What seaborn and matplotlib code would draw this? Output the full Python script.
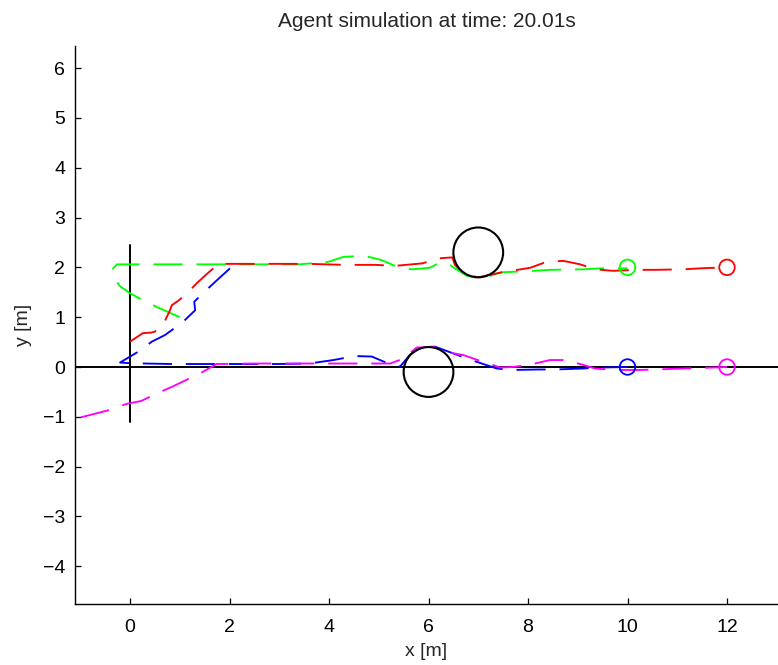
import matplotlib
matplotlib.use("Agg")
import matplotlib.pyplot as plt
from matplotlib.patches import Circle
import seaborn as sns
import pandas as pd

# Agent trajectories (x, y in metres)
green_x = [1.0, 0.57, 0.26, 0.0, -0.2, -0.3, -0.34, -0.26, 0.5, 1.5, 2.4, 3.05, 3.4, 3.98, 4.29,
           4.72, 5.04, 5.33, 5.66, 6.02, 6.2, 6.37, 6.53, 6.77, 7.0, 7.1, 7.47, 8.1, 8.44, 9.11, 9.45, 10.0]
green_y = [1.0, 1.19, 1.34, 1.48, 1.62, 1.75, 1.98, 2.06, 2.06, 2.06, 2.06, 2.06, 2.06, 2.11, 2.21,
           2.23, 2.15, 2.03, 1.96, 1.99, 2.08, 2.09, 1.98, 1.83, 1.79, 1.79, 1.90, 1.93, 1.95, 1.96, 1.98, 1.98]

red_x = [0.0, 0.26, 0.42, 0.5, 0.66, 0.8, 0.84, 0.97, 1.13, 1.34, 1.57, 1.78, 2.4, 3.0, 3.6, 4.29,
         4.92, 5.33, 5.88, 6.2, 6.48, 6.53, 6.6, 6.77, 7.0, 7.47, 8.04, 8.37, 8.71, 9.05, 9.35, 9.71,
         10.18, 10.55, 11.12, 11.46, 12.0]
red_y = [0.51, 0.68, 0.69, 0.71, 0.84, 1.13, 1.24, 1.33, 1.46, 1.68, 1.89, 2.07, 2.07, 2.07, 2.07, 2.05,
         2.05, 2.03, 2.08, 2.18, 2.2, 2.05, 1.98, 1.85, 1.8, 1.9, 1.99, 2.11, 2.13, 2.06, 1.96, 1.93,
         1.95, 1.95, 1.96, 1.98, 2.0]

blue_x = [2.01, 1.8, 1.54, 1.29, 1.31, 1.07, 0.84, 0.7, 0.44, 0.17, -0.2, -0.07, 0.3, 0.84, 1.2, 2.0,
          3.0, 3.6, 4.09, 4.52, 4.86, 5.19, 5.43, 5.63, 5.8, 6.0, 6.13, 6.77, 7.37, 7.67, 8.21, 8.54,
          9.11, 9.45, 10.0]
blue_y = [1.98, 1.79, 1.55, 1.31, 1.14, 0.91, 0.74, 0.64, 0.51, 0.31, 0.09, 0.08, 0.07, 0.06, 0.06, 0.06,
          0.06, 0.07, 0.14, 0.22, 0.21, 0.07, 0.01, 0.25, 0.36, 0.41, 0.41, 0.17, -0.03, -0.06, -0.05, -0.05,
          -0.03, -0.01, 0.0]

magenta_x = [-0.99, -0.4, -0.07, 0.23, 0.54, 0.86, 1.44, 1.74, 2.5, 3.5, 4.5, 5.23, 5.5, 5.76, 6.1,
             6.3, 6.7, 6.9, 7.44, 7.7, 8.1, 8.44, 8.71, 9.05, 9.35, 9.71, 10.22, 10.55, 11.12, 11.46, 12.0]
magenta_y = [-1.01, -0.86, -0.74, -0.68, -0.53, -0.39, -0.11, 0.06, 0.07, 0.07, 0.07, 0.07, 0.17, 0.39, 0.41,
             0.31, 0.24, 0.17, -0.01, 0.0, 0.06, 0.14, 0.14, 0.06, -0.03, -0.06, -0.06, -0.05, -0.03, -0.02, 0.0]

agent_colors = ["#00ff00", "#ff0000", "#0000ff", "#ff00ff"]

# Goal positions of the agents (same colour order)
goal_x = [10.0, 12.0, 10.0, 12.0]
goal_y = [2.0, 2.0, 0.0, 0.0]

# Circular obstacles
obstacle_x = [7.0, 6.0]
obstacle_y = [2.3, -0.1]
obstacle_r = [0.5, 0.5]

# Reference frame drawn at the origin
origin_vline_y = [-1.1, 2.45]
origin_hline_y = 0.0

sns.set_style("ticks")
plt.rcParams["font.family"] = ["Liberation Sans", "DejaVu Sans"]
plt.rcParams["lines.scale_dashes"] = False

fig = plt.figure(figsize=(7.78, 6.65), dpi=100)
ax = fig.add_axes([75 / 778, 61 / 665, 703 / 778, 558 / 665])

trajectories = [(green_x, green_y), (red_x, red_y), (blue_x, blue_y), (magenta_x, magenta_y)]
for (tx, ty), col in zip(trajectories, agent_colors):
    df = pd.DataFrame({"x": tx, "y": ty})
    sns.lineplot(data=df, x="x", y="y", sort=False, estimator=None, color=col,
                 linewidth=1.35, ax=ax)
    ax.lines[-1].set_dashes((21, 10))

ax.axhline(origin_hline_y, color="black", linewidth=1.4, zorder=1)
ax.plot([0, 0], origin_vline_y, color="black", linewidth=1.4, zorder=1)

for ox, oy, r in zip(obstacle_x, obstacle_y, obstacle_r):
    ax.add_patch(Circle((ox, oy), r, fill=False, edgecolor="black", linewidth=1.5, zorder=3))

for gx, gy, col in zip(goal_x, goal_y, agent_colors):
    ax.scatter([gx], [gy], s=125, facecolors="none", edgecolors=col, linewidths=1.3, zorder=4)

ax.set_xlim(-1.106, 13.025)
ax.set_ylim(-4.756, 6.442)
ax.set_xticks([0, 2, 4, 6, 8, 10, 12])
ax.set_yticks([-4, -3, -2, -1, 0, 1, 2, 3, 4, 5, 6])
ax.tick_params(direction="in", length=4.5, width=0.9, labelsize=14, colors="black", pad=7)
ax.tick_params(axis="x", pad=11)
for s in ["top", "right"]:
    ax.spines[s].set_visible(False)
for s in ["left", "bottom"]:
    ax.spines[s].set_color("black")
    ax.spines[s].set_linewidth(1.0)

ax.set_xlabel("x [m]", fontsize=14, labelpad=5)
ax.set_ylabel("y [m]", fontsize=14, labelpad=8)
ax.set_title("Agent simulation at time: 20.01s", fontsize=15, pad=14)

fig.savefig("out.png", dpi=100)
